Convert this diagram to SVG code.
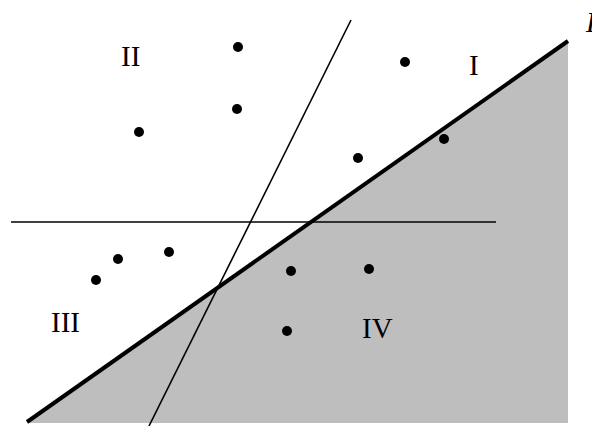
<svg xmlns="http://www.w3.org/2000/svg" width="592" height="426" viewBox="0 0 592 426">
<style>
.lbl{font-family:"Liberation Serif","Times New Roman",serif;font-size:29px;fill:#000}
.dot{fill:#000}
.thin{stroke:#000;stroke-width:1.6;fill:none}
.bold{stroke:#000;stroke-width:4;fill:none}
</style>
<rect width="592" height="426" fill="#fff"/>
<g id="shade"><polygon points="27,423 568,41 568,423" fill="#bebebe"/></g>
<g id="connectors">
<line class="thin" x1="11" y1="222" x2="496" y2="222"/>
<line class="thin" x1="149" y1="426" x2="351" y2="20"/>
<line class="bold" x1="27" y1="422" x2="568" y2="41"/>
</g>
<g id="points">
<circle class="dot" cx="238" cy="47" r="5"/>
<circle class="dot" cx="405" cy="62" r="5"/>
<circle class="dot" cx="237" cy="109" r="5"/>
<circle class="dot" cx="139" cy="132" r="5"/>
<circle class="dot" cx="444" cy="139" r="5"/>
<circle class="dot" cx="358" cy="158" r="5"/>
<circle class="dot" cx="169" cy="252" r="5"/>
<circle class="dot" cx="118" cy="259" r="5"/>
<circle class="dot" cx="96" cy="280" r="5"/>
<circle class="dot" cx="291" cy="271" r="5"/>
<circle class="dot" cx="369" cy="269" r="5"/>
<circle class="dot" cx="287" cy="331" r="5"/>
</g>
<g id="labels">
<text class="lbl" x="121" y="66">II</text>
<text class="lbl" x="469" y="75">I</text>
<text class="lbl" x="51" y="332">III</text>
<text class="lbl" x="362" y="338">IV</text>
<text class="lbl" x="586" y="32" font-style="italic" font-size="26">L</text>
</g>
</svg>
